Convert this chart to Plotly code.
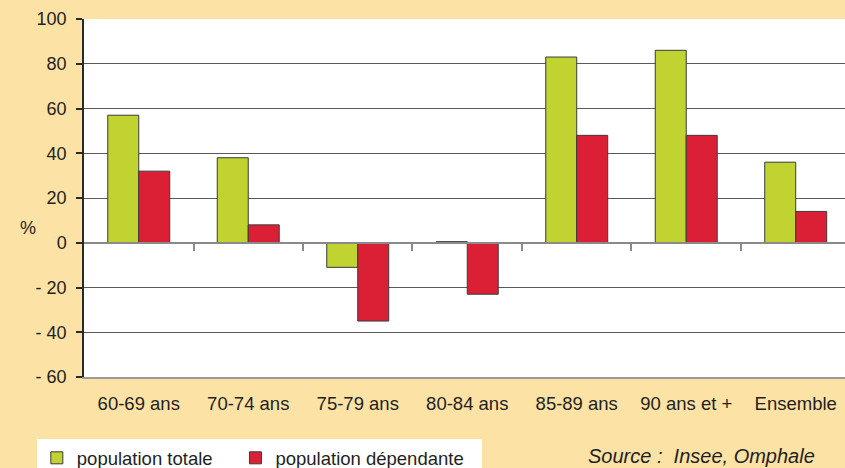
import plotly.graph_objects as go

# Age groups and change in population (%)
categories = ["60-69 ans", "70-74 ans", "75-79 ans", "80-84 ans", "85-89 ans", "90 ans et +", "Ensemble"]
population_totale = [57, 38, -11, 0.5, 83, 86, 36]
population_dependante = [32, 8, -35, -23, 48, 48, 14]

y_tickvals = [100, 80, 60, 40, 20, 0, -20, -40, -60]
y_ticktext = ["100", "80", "60", "40", "20", "0", "- 20", "- 40", "- 60"]

BG = "#FDE2A5"
GREEN = "#C0D330"
RED = "#DB2035"
TEXT = "#231F20"
FONT = "Liberation Sans, Arial, sans-serif"

x_idx = list(range(len(categories)))

fig = go.Figure()
fig.add_trace(go.Bar(
    x=x_idx, y=population_totale, name="population totale", legend="legend",
    marker=dict(color=GREEN, line=dict(color="#3a3a3a", width=1)),
))
fig.add_trace(go.Bar(
    x=x_idx, y=population_dependante, name="population dépendante", legend="legend2",
    marker=dict(color=RED, line=dict(color="#3a3a3a", width=1)),
))

# Invisible helper trace carrying the tick marks along the zero line
fig.add_trace(go.Scatter(x=[x_idx[0]], y=[0], xaxis="x2", mode="markers",
                         marker=dict(opacity=0), showlegend=False, hoverinfo="skip"))

x_range = [-0.5, 6.45]
legend_font = dict(family=FONT, size=18.5, color=TEXT)

fig.update_layout(
    width=845, height=468,
    margin=dict(l=84, r=0, t=19, b=91, autoexpand=False),
    paper_bgcolor=BG, plot_bgcolor="white",
    font=dict(family=FONT, size=18, color=TEXT),
    barmode="group", bargap=0.434, bargroupgap=0,
    showlegend=True,
    legend=dict(
        orientation="h", x=-0.062, xanchor="left", y=-0.174, yanchor="top",
        bgcolor="white", borderwidth=0, font=legend_font,
        entrywidth=200, entrywidthmode="pixels", itemwidth=30,
    ),
    legend2=dict(
        orientation="h", x=0.199, xanchor="left", y=-0.174, yanchor="top",
        bgcolor="white", borderwidth=0, font=legend_font,
        entrywidth=202, entrywidthmode="pixels", itemwidth=30,
    ),
    xaxis=dict(
        range=x_range, tickmode="array", tickvals=x_idx, ticktext=categories,
        showgrid=False, zeroline=False, showline=True, linecolor="#9a9a9a", linewidth=1.5,
        ticks="", ticklabelstandoff=9, tickfont=dict(size=18.5, color=TEXT),
        fixedrange=True,
    ),
    xaxis2=dict(
        overlaying="x", matches="x", anchor="free", position=0.375,
        tickmode="array", tickvals=[i + 0.5 for i in x_idx[:-1]],
        ticks="outside", ticklen=7, tickcolor="#8a8a8a", tickwidth=1.5,
        showticklabels=False, showgrid=False, zeroline=False,
        showline=True, linecolor="#8a8a8a", linewidth=1.5,
    ),
    yaxis=dict(
        range=[-60, 100], tickmode="array", tickvals=y_tickvals, ticktext=y_ticktext,
        showgrid=True, gridcolor="#5a5a5a", gridwidth=1.3,
        zeroline=False, showline=True, linecolor="#2a2a2a", linewidth=1.5,
        ticks="outside", ticklen=6, tickcolor="#2a2a2a", tickwidth=1.5,
        ticklabelstandoff=6, tickfont=dict(size=18, color=TEXT),
    ),
    annotations=[
        dict(text="%", xref="paper", yref="paper", x=-0.087, y=0.416,
             showarrow=False, font=dict(size=18, color=TEXT)),
        dict(text="<i>Source :  Insee, Omphale</i>", xref="paper", yref="paper",
             x=0.66, y=-0.222, xanchor="left", yanchor="middle",
             showarrow=False, font=dict(size=20, color=TEXT)),
    ],
)

fig.write_html("out.html")
